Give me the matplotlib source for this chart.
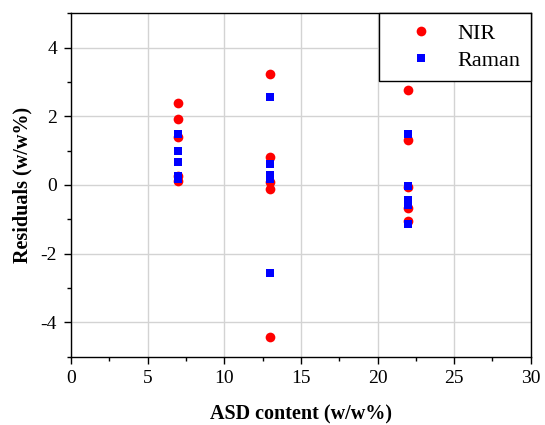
import matplotlib
matplotlib.use("Agg")
import matplotlib.pyplot as plt
from matplotlib.ticker import MultipleLocator

plt.rcParams['font.family'] = ['Liberation Serif', 'DejaVu Serif']
plt.rcParams['axes.unicode_minus'] = False

# ASD content levels and residuals for each model
asd_content = [7, 7, 7, 7, 7,
               13, 13, 13, 13, 13,
               22, 22, 22, 22, 22]
nir_residuals = [2.37, 1.93, 1.40, 0.25, 0.12,
                 3.22, 0.80, 0.08, -0.12, -4.42,
                 2.75, 1.32, -0.05, -0.68, -1.05]
raman_residuals = [1.47, 0.98, 0.66, 0.25, 0.18,
                   2.57, 0.62, 0.30, 0.18, -2.58,
                   1.48, -0.03, -0.45, -0.60, -1.15]

fig = plt.figure(figsize=(5.45, 4.25), dpi=100)
ax = fig.add_axes([0.130, 0.161, 0.844, 0.808])

ax.plot(asd_content, nir_residuals, linestyle='none', marker='o',
        markersize=7, color='#ff0000', markeredgewidth=0, label='NIR', zorder=3)
ax.plot(asd_content, raman_residuals, linestyle='none', marker='s',
        markersize=5.5, color='#0000ff', markeredgewidth=0, label='Raman', zorder=4)

ax.set_xlim(0, 30)
ax.set_ylim(-5, 5)
ax.xaxis.set_major_locator(MultipleLocator(5))
ax.xaxis.set_minor_locator(MultipleLocator(2.5))
ax.yaxis.set_major_locator(MultipleLocator(2))
ax.yaxis.set_minor_locator(MultipleLocator(1))

ax.grid(True, which='major', color='#d3d3d3', linewidth=1.0, zorder=0)
ax.set_axisbelow(True)

ax.tick_params(which='both', direction='out', top=False, right=False,
               labelsize=14, width=1.0, color='black')
ax.tick_params(which='major', length=5, pad=5)
ax.tick_params(which='minor', length=3)
for s in ax.spines.values():
    s.set_linewidth(1.0)
    s.set_color('black')

ax.set_xlabel('ASD content (w/w%)', fontsize=14.5, fontweight='bold', labelpad=12)
ax.set_ylabel('Residuals (w/w%)', fontsize=14.5, fontweight='bold', labelpad=6)

leg = ax.legend(loc='upper right', fontsize=16, frameon=True, fancybox=False,
                edgecolor='black', framealpha=1, borderaxespad=0,
                handletextpad=0.2, borderpad=0.45, labelspacing=0.3,
                handlelength=2.9)
leg.get_frame().set_linewidth(1.0)

fig.savefig('out.png', dpi=100)
